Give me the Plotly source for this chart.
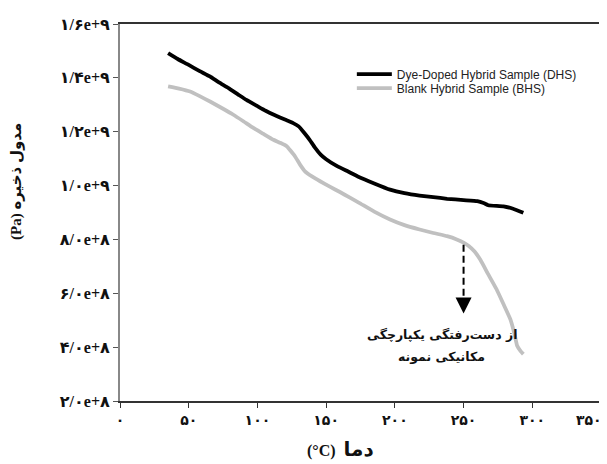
import plotly.graph_objects as go

# ---- data ----
x_dhs = [35, 42, 50, 58, 65.5, 72, 79, 86, 92, 100, 106, 112, 120, 126, 130, 134, 138, 142, 146, 150,
         158, 166, 173, 185, 196.5, 207, 218, 228, 238, 250, 260, 265, 268, 279, 286, 293.5]
y_dhs = [1.492e9, 1.470e9, 1.448e9, 1.425e9, 1.405e9, 1.383e9, 1.362e9, 1.338e9, 1.318e9, 1.295e9,
         1.278e9, 1.263e9, 1.245e9, 1.232e9, 1.220e9, 1.196e9, 1.170e9, 1.140e9, 1.115e9, 1.098e9,
         1.072e9, 1.052e9, 1.034e9, 1.008e9, 0.985e9, 0.972e9, 0.963e9, 0.957e9, 0.951e9, 0.946e9,
         0.942e9, 0.934e9, 0.927e9, 0.923e9, 0.914e9, 0.899e9]

x_bhs = [35, 43, 51, 58, 65.5, 74, 82.5, 90, 97, 104, 111.6, 117, 121.3, 124, 127.4, 131, 134.6, 140,
         145.6, 153, 160, 167, 174, 185, 196.5, 207, 218, 228, 238, 245, 250, 254, 258, 262, 268, 274,
         279, 284, 287, 289, 291.5, 293.5]
y_bhs = [1.368e9, 1.360e9, 1.349e9, 1.332e9, 1.312e9, 1.288e9, 1.263e9, 1.238e9, 1.214e9, 1.193e9,
         1.170e9, 1.158e9, 1.146e9, 1.130e9, 1.108e9, 1.078e9, 1.053e9, 1.033e9, 1.016e9, 0.995e9,
         0.976e9, 0.956e9, 0.936e9, 0.903e9, 0.874e9, 0.853e9, 0.837e9, 0.824e9, 0.812e9, 0.800e9,
         0.788e9, 0.775e9, 0.755e9, 0.726e9, 0.670e9, 0.615e9, 0.560e9, 0.504e9, 0.450e9, 0.405e9,
         0.385e9, 0.374e9]

series_names = ["Dye-Doped Hybrid Sample (DHS)", "Blank Hybrid Sample (BHS)"]

x_tick_vals = [0, 50, 100, 150, 200, 250, 300, 350]
x_tick_text = ["۰", "۵۰", "۱۰۰", "۱۵۰", "۲۰۰", "۲۵۰", "۳۰۰", "۳۵۰"]
y_tick_vals = [2e8, 4e8, 6e8, 8e8, 1.0e9, 1.2e9, 1.4e9, 1.6e9]
y_tick_text = ["۲/۰e+۸", "۴/۰e+۸", "۶/۰e+۸", "۸/۰e+۸", "۱/۰e+۹", "۱/۲e+۹", "۱/۴e+۹", "۱/۶e+۹"]

x_title_unit = "(°C)"
x_title_word = "دما"
y_title_unit = "(Pa)"
y_title_words = "مدول ذخیره"
note_lines = ["از دست\u200cرفتگی یکپارچگی", "مکانیکی نمونه"]

arrow_x = 250
arrow_top = 7.8e8
arrow_tip = 5.25e8
note_x = 234
note_y = [4.47e8, 3.66e8]

FONT = "Liberation Serif, DejaVu Sans"

# the last x tick label sits flush against the right edge, as in the reference
x_tick_disp = ["<b>" + t + "</b>" for t in x_tick_text]
x_tick_disp[-1] = x_tick_disp[-1] + "\u00a0" * 7

fig = go.Figure()
fig.add_trace(go.Scatter(x=x_dhs, y=y_dhs, mode="lines", name=series_names[0], legend="legend",
                         line=dict(color="#000000", width=3.8, shape="spline", smoothing=0.4)))
fig.add_trace(go.Scatter(x=x_bhs, y=y_bhs, mode="lines", name=series_names[1], legend="legend2",
                         line=dict(color="#c0c0c0", width=3.8, shape="spline", smoothing=0.4)))

# dashed arrow shaft
fig.add_shape(type="line", xref="x", yref="y", x0=arrow_x, x1=arrow_x, y0=arrow_top, y1=arrow_tip + 0.45e8,
              line=dict(color="#000000", width=2, dash="7px,4px"))
# arrow head
fig.add_annotation(x=arrow_x, y=arrow_tip, ax=arrow_x, ay=arrow_tip + 0.4e8, xref="x", yref="y",
                   axref="x", ayref="y", showarrow=True, arrowhead=2, arrowsize=1.6, arrowwidth=2,
                   arrowcolor="#000000", text="")
for line_text, ly in zip(note_lines, note_y):
    fig.add_annotation(x=note_x, y=ly, xref="x", yref="y", text="<b>" + line_text + "</b>",
                       showarrow=False, font=dict(family="DejaVu Sans", size=12.5, color="#111111"),
                       align="center", xanchor="center", yanchor="middle")

fig.add_annotation(x=0.459, y=-0.128, xref="paper", yref="paper",
                   text="<b>" + x_title_unit + "\u00a0 <span style='font-size:20px'>" + x_title_word + "</span></b>",
                   showarrow=False, xanchor="center", yanchor="middle",
                   font=dict(family=FONT, size=16, color="#111111"))
fig.add_annotation(x=-0.214, y=0.581, xref="paper", yref="paper",
                   text="<b>" + y_title_unit + " <span style='font-size:15px'>" + y_title_words + "</span></b>",
                   textangle=-90, showarrow=False, xanchor="center", yanchor="middle",
                   font=dict(family=FONT, size=15, color="#111111"))

legend_common = dict(x=0.482, xanchor="left", yanchor="middle", bgcolor="rgba(0,0,0,0)",
                     font=dict(family="Liberation Sans", size=12, color="#222222"),
                     tracegroupgap=0, itemwidth=35)

fig.update_layout(
    width=599, height=456,
    margin=dict(l=112, r=6, t=16, b=63, autoexpand=False),
    paper_bgcolor="white", plot_bgcolor="white",
    legend=dict(y=0.867, **legend_common),
    legend2=dict(y=0.83, **legend_common),
    xaxis=dict(range=[0, 350], tickvals=x_tick_vals, ticktext=x_tick_disp,
               showgrid=False, zeroline=False, showline=True, linecolor="#333333", linewidth=1.5,
               mirror=True, ticks="outside", ticklen=5, tickcolor="#333333", automargin=False,
               ticklabeloverflow="allow",
               tickfont=dict(family=FONT, size=14, color="#111111")),
    yaxis=dict(range=[2e8, 1.6e9], tickvals=y_tick_vals, ticktext=["<b>" + t + "</b>" for t in y_tick_text],
               showgrid=False, zeroline=False, showline=True, linecolor="#888888", linewidth=2,
               mirror=True, ticks="outside", ticklen=5, tickcolor="#555555", automargin=False,
               ticklabeloverflow="allow",
               tickfont=dict(family=FONT, size=16, color="#111111")),
    showlegend=True,
)

fig.write_html("out.html")
